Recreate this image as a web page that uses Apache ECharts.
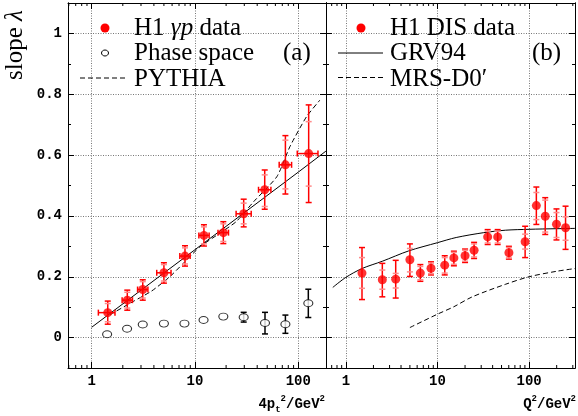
<!DOCTYPE html>
<html><head><meta charset="utf-8">
<script src="https://cdn.jsdelivr.net/npm/echarts@6/dist/echarts.min.js"></script>
<style>html,body{margin:0;padding:0;background:#fff}#c{width:578px;height:416px}</style>
</head><body><div id="c"></div>
<script>
// ---- axis ranges / ticks ----
const Y_MIN = -0.1, Y_MAX = 1.1;
const xRangeA = [0.5895, 185.4];
const xRangeB = [0.607, 317];
const minorTicksA = [0.6,0.7,0.8,0.9,2,3,4,5,6,7,8,9,20,30,40,50,60,70,80,90];
const minorTicksB = [0.7,0.8,0.9,2,3,4,5,6,7,8,9,20,30,40,50,60,70,80,90,200,300];

// ---- panel (a): H1 gamma-p data ----
const gpX      = [1.43, 2.21, 3.12, 5.0, 8.0, 12.2, 18.8, 29.6, 47.3, 75, 126];
const gpY      = [0.082, 0.123, 0.158, 0.213, 0.268, 0.336, 0.345, 0.407, 0.486, 0.568, 0.605];
const gpTotLo  = [0.044, 0.090, 0.123, 0.179, 0.235, 0.301, 0.309, 0.364, 0.422, 0.472, 0.444];
const gpTotHi  = [0.120, 0.156, 0.190, 0.246, 0.302, 0.371, 0.381, 0.455, 0.551, 0.664, 0.765];
const gpStatLo = [0.052, 0.097, 0.130, 0.186, 0.242, 0.308, 0.316, 0.374, 0.431, 0.489, 0.498];
const gpStatHi = [0.112, 0.149, 0.184, 0.240, 0.295, 0.364, 0.374, 0.442, 0.535, 0.649, 0.710];
const gpXLo    = [1.16, 1.97, 2.78, 4.26, 7.13, 10.9, 16.7, 25.0, 41.2, 65.3, 97.7];
const gpXHi    = [1.68, 2.48, 3.50, 5.86, 8.97, 13.7, 21.1, 35.0, 54.3, 86.1, 155];

// ---- panel (a): phase space ----
const psX  = [1.41, 2.20, 3.12, 5.0, 7.9, 12.1, 18.8, 29.6, 47.6, 75, 125];
const psY  = [0.011, 0.029, 0.043, 0.046, 0.046, 0.058, 0.069, 0.067, 0.048, 0.044, 0.113];
const psLo = [0.011, 0.029, 0.043, 0.046, 0.046, 0.058, 0.069, 0.051, 0.012, 0.014, 0.066];
const psHi = [0.011, 0.029, 0.043, 0.046, 0.046, 0.058, 0.069, 0.083, 0.083, 0.074, 0.159];

// ---- panel (a): curves ----
const fitX = [1, 10, 100, 185];
const fitY = [0.034, 0.289, 0.544, 0.613];
const pythiaX = [1.5, 2.5, 3.8, 5.7, 7.7, 11.2, 16, 25, 37, 62, 83, 120, 162];
const pythiaY = [0.075, 0.118, 0.153, 0.2, 0.244, 0.299, 0.335, 0.381, 0.447, 0.529, 0.628, 0.726, 0.781];

// ---- panel (b): H1 DIS data ----
const disX      = [1.5, 2.5, 3.5, 5.0, 6.5, 8.5, 12, 15.1, 20, 25.1, 35.3, 45.4, 60.2, 90.5, 120, 150, 199, 250];
const disY      = [0.212, 0.19, 0.192, 0.256, 0.212, 0.228, 0.238, 0.262, 0.269, 0.287, 0.331, 0.331, 0.279, 0.315, 0.434, 0.399, 0.373, 0.361];
const disTotLo  = [0.125, 0.134, 0.13, 0.201, 0.185, 0.206, 0.206, 0.236, 0.247, 0.26, 0.306, 0.306, 0.258, 0.263, 0.372, 0.339, 0.321, 0.29];
const disTotHi  = [0.296, 0.244, 0.254, 0.308, 0.24, 0.249, 0.269, 0.284, 0.291, 0.313, 0.355, 0.355, 0.3, 0.366, 0.495, 0.46, 0.423, 0.432];
const disStatLo = [0.162, 0.159, 0.163, 0.216, 0.19, 0.21, 0.212, 0.241, 0.251, 0.265, 0.311, 0.311, 0.262, 0.291, 0.388, 0.347, 0.329, 0.32];
const disStatHi = [0.263, 0.222, 0.211, 0.293, 0.234, 0.245, 0.263, 0.28, 0.287, 0.308, 0.35, 0.35, 0.296, 0.34, 0.477, 0.452, 0.411, 0.397];

// ---- panel (b): curves ----
const grvX = [0.72, 1, 1.5, 2.5, 4.85, 10, 16, 32, 55, 100, 200, 317];
const grvY = [0.165, 0.198, 0.227, 0.251, 0.285, 0.312, 0.329, 0.345, 0.353, 0.356, 0.358, 0.359];
const mrsX = [5, 10, 15, 24, 55, 100, 200, 317];
const mrsY = [0.033, 0.077, 0.101, 0.134, 0.175, 0.2, 0.218, 0.227];

const RED = '#ff0000', PINK = '#ff8a8a';
const zip = (...a) => a[0].map((_, i) => a.map(arr => arr[i]));

function isPow10(v){ const l = Math.log10(v); return Math.abs(l - Math.round(l)) < 1e-6 && Math.round(l) >= 0; }
function yLabel(v){
  const k = Math.round(v * 10);
  if (Math.abs(v * 10 - k) > 1e-6 || k % 2 !== 0 || k < 0 || k > 10) return '';
  return k === 0 ? '0' : k === 10 ? '1' : (k / 10).toFixed(1);
}
const labelFont = {fontFamily: 'Liberation Mono', fontWeight: 'bold', fontSize: 14, color: '#000'};
const axLine = {show: true, onZero: false, lineStyle: {color: '#000', width: 1}};
const gridLine = {color: '#777', type: [1, 1.5], width: 1};

function xAx(grid, pos, range, labels){
  return {type: 'log', logBase: 10, gridIndex: grid, position: pos, min: range[0], max: range[1],
    axisLine: axLine,
    axisTick: {show: true, inside: true, length: 6, lineStyle: {color: '#000'}},
    axisLabel: Object.assign({show: labels, margin: 6, formatter: v => isPow10(v) ? String(Math.round(v)) : ''}, labelFont),
    splitLine: {show: labels, showMinLine: false, showMaxLine: false, lineStyle: gridLine},
    minorTick: {show: false}};
}
function yMajor(grid, pos, labels, split){
  return {type: 'value', gridIndex: grid, position: pos, min: Y_MIN, max: Y_MAX, minInterval: 0.2, maxInterval: 0.2,
    axisLine: axLine,
    axisTick: {show: true, inside: true, length: 6, lineStyle: {color: '#000'}},
    axisLabel: Object.assign({show: labels, margin: 6, formatter: yLabel}, labelFont),
    splitLine: {show: split, showMinLine: false, showMaxLine: false, lineStyle: gridLine}};
}
function yMinor(grid, pos){
  return {type: 'value', gridIndex: grid, position: pos, min: Y_MIN, max: Y_MAX, interval: 0.1,
    axisLine: axLine,
    axisTick: {show: true, inside: true, length: 3, lineStyle: {color: '#000'}},
    axisLabel: {show: false}, splitLine: {show: false}};
}

function minorRender(params, api){
  const x = api.value(0);
  const b = api.coord([x, Y_MIN]), t = api.coord([x, Y_MAX]);
  const st = {stroke: '#000', lineWidth: 1};
  return {type: 'group', children: [
    {type: 'line', shape: {x1: b[0], y1: b[1], x2: b[0], y2: b[1] - 3}, style: st},
    {type: 'line', shape: {x1: t[0], y1: t[1], x2: t[0], y2: t[1] + 3}, style: st}]};
}
function errRender(color, inner, capW){
  return function(params, api){
    const x = api.value(0);
    const lo = api.value(2), hi = api.value(3);
    const c = api.coord([x, api.value(1)]);
    const pl = api.coord([x, lo]), ph = api.coord([x, hi]);
    const st = {stroke: color, lineWidth: 1.5};
    const ch = [];
    if (hi > lo) {
      ch.push({type: 'line', shape: {x1: c[0], y1: pl[1], x2: c[0], y2: ph[1]}, style: st});
      ch.push({type: 'line', shape: {x1: c[0] - capW, y1: pl[1], x2: c[0] + capW, y2: pl[1]}, style: st});
      ch.push({type: 'line', shape: {x1: c[0] - capW, y1: ph[1], x2: c[0] + capW, y2: ph[1]}, style: st});
    }
    if (inner) {
      const il = api.coord([x, api.value(4)]), ih = api.coord([x, api.value(5)]);
      const s2 = {stroke: inner, lineWidth: 1.5};
      ch.push({type: 'line', shape: {x1: c[0] - capW, y1: il[1], x2: c[0] + capW, y2: il[1]}, style: s2});
      ch.push({type: 'line', shape: {x1: c[0] - capW, y1: ih[1], x2: c[0] + capW, y2: ih[1]}, style: s2});
    }
    const xl = api.value(6), xh = api.value(7);
    if (xl && xh && xh > xl) {
      const a = api.coord([xl, api.value(1)]), b = api.coord([xh, api.value(1)]);
      ch.push({type: 'line', shape: {x1: a[0], y1: c[1], x2: b[0], y2: c[1]}, style: st});
      ch.push({type: 'line', shape: {x1: a[0], y1: c[1] - 3, x2: a[0], y2: c[1] + 3}, style: st});
      ch.push({type: 'line', shape: {x1: b[0], y1: c[1] - 3, x2: b[0], y2: c[1] + 3}, style: st});
    }
    return {type: 'group', children: ch};
  };
}

const serif = 'Liberation Serif';
const LF = 25;
function txt(x, y, text, rich){
  return {type: 'text', x: x, y: y, z: 100,
    style: {text: text, fontFamily: serif, fontSize: LF, fill: '#000', align: 'left', verticalAlign: 'middle', rich: rich || {}}};
}
const italic = {i: {fontFamily: serif, fontSize: LF, fontStyle: 'italic', fill: '#000'}};
const monoB = {fontFamily: 'Liberation Mono', fontWeight: 'bold', fill: '#000'};
const axRich = {
  sp: Object.assign({fontSize: 9, verticalAlign: 'top'}, monoB),
  sb: Object.assign({fontSize: 9, verticalAlign: 'bottom'}, monoB)
};

const chart = echarts.init(document.getElementById('c'), null, {renderer: 'canvas'});
chart.setOption({
  animation: false,
  backgroundColor: '#fff',
  grid: [
    {left: 68, top: 3, width: 258, height: 365},
    {left: 326, top: 3, width: 251, height: 365}
  ],
  xAxis: [
    xAx(0, 'bottom', xRangeA, true), xAx(0, 'top', xRangeA, false),
    xAx(1, 'bottom', xRangeB, true), xAx(1, 'top', xRangeB, false)
  ],
  yAxis: [
    yMajor(0, 'left', true, true), yMinor(0, 'left'), yMajor(0, 'right', false, false), yMinor(0, 'right'),
    yMajor(1, 'left', false, true), yMinor(1, 'left'), yMajor(1, 'right', false, false), yMinor(1, 'right')
  ],
  graphic: [
    {type: 'text', x: 15, y: 45, rotation: Math.PI / 2, z: 100,
      style: {text: 'slope {l|λ}', fontFamily: serif, fontSize: LF, fill: '#000', align: 'center', verticalAlign: 'middle',
        rich: {l: {fontFamily: serif, fontSize: LF, fontStyle: 'italic', fill: '#000'}}}},
    {type: 'text', x: 325, y: 404, z: 100,
      style: Object.assign({text: '4p{sb|t}{sp|2}/GeV{sp|2}', fontSize: 14, lineHeight: 20,
        align: 'right', verticalAlign: 'middle', rich: axRich}, monoB)},
    {type: 'text', x: 576, y: 404, z: 100,
      style: Object.assign({text: 'Q{sp|2}/GeV{sp|2}', fontSize: 14, lineHeight: 20,
        align: 'right', verticalAlign: 'middle', rich: axRich}, monoB)},
    // legend (a)
    {type: 'circle', shape: {cx: 105, cy: 28, r: 4.5}, style: {fill: RED}, z: 100},
    txt(134, 28, 'H1 {i|γp} data', italic),
    {type: 'ellipse', shape: {cx: 105, cy: 53, rx: 3.5, ry: 3}, style: {fill: '#fff', stroke: '#000', lineWidth: 1}, z: 100},
    txt(134, 53, 'Phase space'),
    {type: 'line', shape: {x1: 80, y1: 78, x2: 128, y2: 78}, style: {stroke: '#000', lineWidth: 1, lineDash: [5, 3]}, z: 100},
    txt(134, 79, 'PYTHIA'),
    txt(283, 53, '(a)'),
    // legend (b)
    {type: 'circle', shape: {cx: 361, cy: 28, r: 4.5}, style: {fill: RED}, z: 100},
    txt(390, 28, 'H1 DIS data'),
    {type: 'line', shape: {x1: 338, y1: 53, x2: 383, y2: 53}, style: {stroke: '#000', lineWidth: 1}, z: 100},
    txt(390, 53, 'GRV94'),
    {type: 'line', shape: {x1: 338, y1: 77.5, x2: 383, y2: 77.5}, style: {stroke: '#000', lineWidth: 1, lineDash: [5, 3]}, z: 100},
    txt(390, 79, 'MRS-D0′'),
    txt(532, 53, '(b)')
  ],
  series: [
    {type: 'custom', name: 'minor ticks a', xAxisIndex: 0, yAxisIndex: 0, silent: true, z: 5,
      data: minorTicksA.map(v => [v, 0]), renderItem: minorRender},
    {type: 'custom', name: 'minor ticks b', xAxisIndex: 2, yAxisIndex: 4, silent: true, z: 5,
      data: minorTicksB.map(v => [v, 0]), renderItem: minorRender},
    {type: 'line', name: 'fit', xAxisIndex: 0, yAxisIndex: 0, data: zip(fitX, fitY), showSymbol: false,
      lineStyle: {color: '#000', width: 1}, z: 3},
    {type: 'line', name: 'PYTHIA', xAxisIndex: 0, yAxisIndex: 0, data: zip(pythiaX, pythiaY), showSymbol: false, smooth: 0.2,
      lineStyle: {color: '#000', width: 1, type: [5, 3]}, z: 3},
    {type: 'custom', name: 'Phase space errors', xAxisIndex: 0, yAxisIndex: 0, z: 4,
      data: zip(psX, psY, psLo, psHi), renderItem: errRender('#000', null, 3)},
    {type: 'scatter', name: 'Phase space', xAxisIndex: 0, yAxisIndex: 0, data: zip(psX, psY), symbol: 'circle', symbolSize: [9, 7],
      itemStyle: {color: '#fff', borderColor: '#000', borderWidth: 1}, z: 6},
    {type: 'custom', name: 'H1 γp errors', xAxisIndex: 0, yAxisIndex: 0, z: 4,
      data: zip(gpX, gpY, gpTotLo, gpTotHi, gpStatLo, gpStatHi, gpXLo, gpXHi), renderItem: errRender(RED, PINK, 3)},
    {type: 'scatter', name: 'H1 γp data', xAxisIndex: 0, yAxisIndex: 0, data: zip(gpX, gpY), symbol: 'circle', symbolSize: 9,
      itemStyle: {color: RED}, z: 7},
    {type: 'line', name: 'GRV94', xAxisIndex: 2, yAxisIndex: 4, data: zip(grvX, grvY), showSymbol: false, smooth: 0.3,
      lineStyle: {color: '#000', width: 1}, z: 3},
    {type: 'line', name: 'MRS-D0′', xAxisIndex: 2, yAxisIndex: 4, data: zip(mrsX, mrsY), showSymbol: false, smooth: 0.3,
      lineStyle: {color: '#000', width: 1, type: [5, 3]}, z: 3},
    {type: 'custom', name: 'H1 DIS errors', xAxisIndex: 2, yAxisIndex: 4, z: 4,
      data: zip(disX, disY, disTotLo, disTotHi, disStatLo, disStatHi), renderItem: errRender(RED, PINK, 3)},
    {type: 'scatter', name: 'H1 DIS data', xAxisIndex: 2, yAxisIndex: 4, data: zip(disX, disY), symbol: 'circle', symbolSize: 9,
      itemStyle: {color: RED}, z: 7}
  ]
});
</script></body></html>
